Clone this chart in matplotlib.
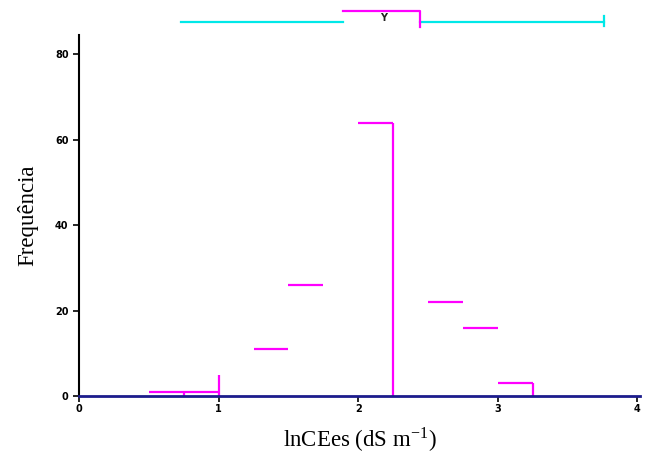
import matplotlib.pyplot as plt

# histograma (classes de 0,25)
bin_left = [0.50, 0.75, 1.25, 1.50, 2.00, 2.50, 2.75, 3.00]
counts = [1, 1, 11, 26, 64, 22, 16, 3]
bin_w = 0.25

# bordas verticais visiveis
edge_x = [0.75, 1.00, 2.25, 3.25]
edge_top = [1, 5, 64, 3]

# boxplot no topo
wlo, q1, med, q3, whi = 0.73, 1.89, 2.18, 2.44, 3.76

xticks = [0, 1, 2, 3, 4]
yticks = [0, 20, 40, 60, 80]

mag = "#ff00ff"
cyan = "#00e8e8"

plt.rcParams['mathtext.fontset'] = 'stix'
fig = plt.figure(figsize=(6.51, 4.57), dpi=100)
ax = fig.add_axes([0.1214, 0.1335, 0.862, 0.79])

for xl, c in zip(bin_left, counts):
    ax.plot([xl, xl + bin_w], [c, c], color=mag, lw=1.6, solid_capstyle='butt')
for xe, t in zip(edge_x, edge_top):
    ax.plot([xe, xe], [0, t], color=mag, lw=1.6, solid_capstyle='butt')

# boxplot (fora da area do eixo)
yb = 87.6
ax.plot([wlo, q1], [yb, yb], color=cyan, lw=1.6, clip_on=False)
ax.plot([q3, whi], [yb, yb], color=cyan, lw=1.6, clip_on=False)
ax.plot([whi, whi], [86.6, 89.0], color=cyan, lw=1.6, clip_on=False)
ax.plot([q1, q3, q3], [90.2, 90.2, 86.3], color=mag, lw=1.6, clip_on=False)
ax.text(med, 88.4, "Y", fontsize=7, fontweight='bold', ha='center', va='center',
        color='#222222', clip_on=False)

ax.set_xlim(0, 4.02)
ax.set_ylim(0, 84.5)
ax.set_xticks(xticks)
ax.set_yticks(yticks)
ax.set_xticklabels([str(v) for v in xticks], fontsize=7, fontweight='bold')
ax.set_yticklabels([str(v) for v in yticks], fontsize=7, fontweight='bold')
ax.tick_params(axis='both', length=4, width=1.2, color='black')
ax.tick_params(axis='x', pad=2)

for s in ['top', 'right']:
    ax.spines[s].set_visible(False)
ax.spines['left'].set_color('black')
ax.spines['left'].set_linewidth(1.5)
ax.spines['bottom'].set_color('#1c1c8c')
ax.spines['bottom'].set_linewidth(2)

ax.set_ylabel("Frequência", fontsize=16.5, family='Liberation Serif', labelpad=12)
ax.set_xlabel("lnCEes (dS m$^{\\mathregular{-1}}$)", fontsize=16.5,
              family='Liberation Serif', labelpad=8)

plt.savefig("out.png", dpi=100)
